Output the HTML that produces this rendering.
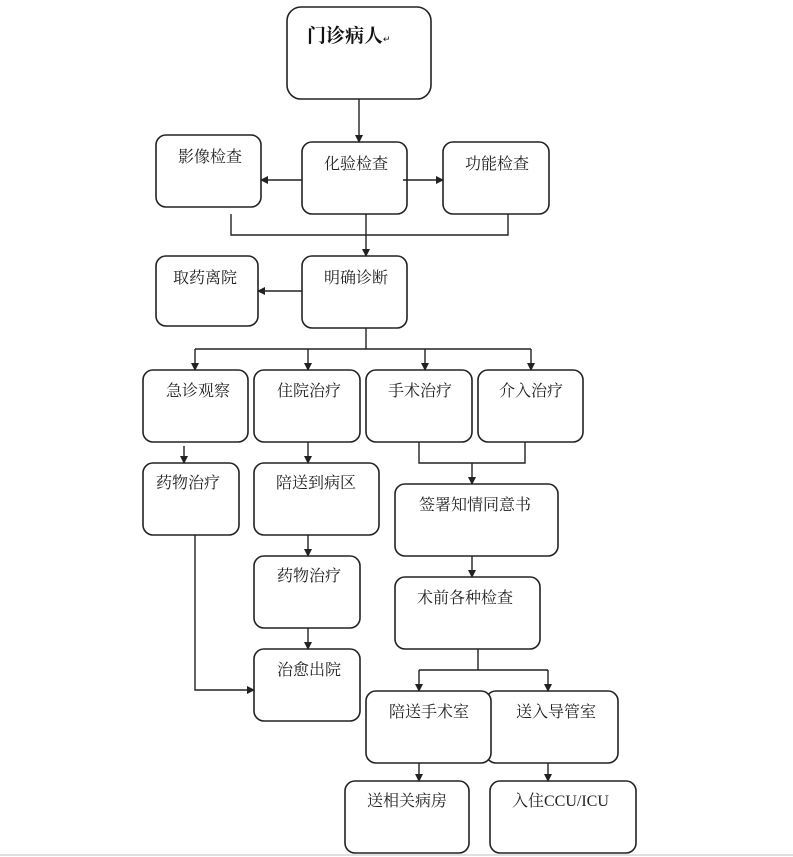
<!DOCTYPE html>
<html><head><meta charset="utf-8"><style>
html,body{margin:0;padding:0;background:#fff;}
svg{display:block;}
text{font-family:"Liberation Serif","Noto Serif CJK SC","Noto Sans CJK SC",serif;font-size:16px;fill:#222;}
.b{fill:#fff;stroke:#222;stroke-width:1.6;}
.l{fill:none;stroke:#222;stroke-width:1.4;}
</style></head><body>
<svg width="793" height="857" viewBox="0 0 793 857" xmlns="http://www.w3.org/2000/svg">
<defs><marker id="a" markerWidth="8" markerHeight="8" refX="7" refY="4" orient="auto" markerUnits="userSpaceOnUse"><path d="M0,0 L8,4 L0,8 Z" fill="#222"/></marker></defs>
<!-- boxes -->
<rect class="b" x="287" y="7" width="144" height="92" rx="14"/>
<text x="307" y="42" style="font-size:19px;font-weight:bold;fill:#111">门诊病人<tspan style="font-size:9px;font-weight:normal">↵</tspan></text>
<rect class="b" x="156" y="135" width="105" height="72" rx="10"/><text x="178" y="162">影像检查</text>
<rect class="b" x="302" y="142" width="105" height="72" rx="10"/><text x="324" y="169">化验检查</text>
<rect class="b" x="443" y="142" width="106" height="72" rx="10"/><text x="465" y="169">功能检查</text>
<rect class="b" x="156" y="256" width="102" height="70" rx="10"/><text x="173" y="283">取药离院</text>
<rect class="b" x="302" y="256" width="105" height="72" rx="10"/><text x="324" y="283">明确诊断</text>
<rect class="b" x="143" y="370" width="105" height="72" rx="10"/><text x="166" y="396">急诊观察</text>
<rect class="b" x="254" y="370" width="106" height="72" rx="10"/><text x="277" y="396">住院治疗</text>
<rect class="b" x="366" y="370" width="106" height="72" rx="10"/><text x="388" y="396">手术治疗</text>
<rect class="b" x="478" y="370" width="105" height="72" rx="10"/><text x="499" y="396">介入治疗</text>
<rect class="b" x="143" y="463" width="96" height="72" rx="10"/><text x="156" y="488">药物治疗</text>
<rect class="b" x="254" y="463" width="125" height="72" rx="10"/><text x="276" y="488">陪送到病区</text>
<rect class="b" x="395" y="484" width="163" height="72" rx="10"/><text x="419" y="510">签署知情同意书</text>
<rect class="b" x="254" y="556" width="106" height="72" rx="10"/><text x="277" y="581">药物治疗</text>
<rect class="b" x="395" y="577" width="145" height="72" rx="10"/><text x="417" y="603">术前各种检查</text>
<rect class="b" x="254" y="649" width="106" height="72" rx="10"/><text x="277" y="675">治愈出院</text>
<rect class="b" x="486" y="691" width="132" height="72" rx="10"/><text x="516" y="717">送入导管室</text>
<rect class="b" x="366" y="691" width="125" height="72" rx="10"/><text x="389" y="717">陪送手术室</text>
<rect class="b" x="345" y="781" width="124" height="72" rx="10"/><text x="367" y="806">送相关病房</text>
<rect class="b" x="490" y="781" width="146" height="72" rx="10"/><text x="512" y="806">入住CCU/ICU</text>
<!-- connectors -->
<line class="l" x1="359" y1="99" x2="359" y2="142" marker-end="url(#a)"/>
<line class="l" x1="302" y1="180" x2="261" y2="180" marker-end="url(#a)"/>
<line class="l" x1="403" y1="180" x2="443" y2="180" marker-end="url(#a)"/>
<polyline class="l" points="231,214 231,235 508,235 508,214"/>
<line class="l" x1="366" y1="214" x2="366" y2="256" marker-end="url(#a)"/>
<line class="l" x1="302" y1="291" x2="258" y2="291" marker-end="url(#a)"/>
<line class="l" x1="366" y1="328" x2="366" y2="349"/>
<line class="l" x1="195" y1="349" x2="531" y2="349"/>
<line class="l" x1="195" y1="349" x2="195" y2="370" marker-end="url(#a)"/>
<line class="l" x1="308" y1="349" x2="308" y2="370" marker-end="url(#a)"/>
<line class="l" x1="425" y1="349" x2="425" y2="370" marker-end="url(#a)"/>
<line class="l" x1="531" y1="349" x2="531" y2="370" marker-end="url(#a)"/>
<line class="l" x1="184" y1="446" x2="184" y2="463" marker-end="url(#a)"/>
<line class="l" x1="308" y1="442" x2="308" y2="463" marker-end="url(#a)"/>
<polyline class="l" points="419,442 419,463 525,463 525,442"/>
<line class="l" x1="472" y1="463" x2="472" y2="484" marker-end="url(#a)"/>
<line class="l" x1="308" y1="535" x2="308" y2="556" marker-end="url(#a)"/>
<line class="l" x1="308" y1="628" x2="308" y2="649" marker-end="url(#a)"/>
<polyline class="l" points="195,535 195,690 254,690" marker-end="url(#a)"/>
<line class="l" x1="472" y1="556" x2="472" y2="577" marker-end="url(#a)"/>
<line class="l" x1="478" y1="649" x2="478" y2="670"/>
<line class="l" x1="419" y1="670" x2="548" y2="670"/>
<line class="l" x1="419" y1="670" x2="419" y2="691" marker-end="url(#a)"/>
<line class="l" x1="548" y1="670" x2="548" y2="691" marker-end="url(#a)"/>
<line class="l" x1="419" y1="763" x2="419" y2="781" marker-end="url(#a)"/>
<line class="l" x1="548" y1="763" x2="548" y2="781" marker-end="url(#a)"/>
<line x1="0" y1="855" x2="793" y2="855" stroke="#e0e0e0" stroke-width="2"/>
</svg>
</body></html>
